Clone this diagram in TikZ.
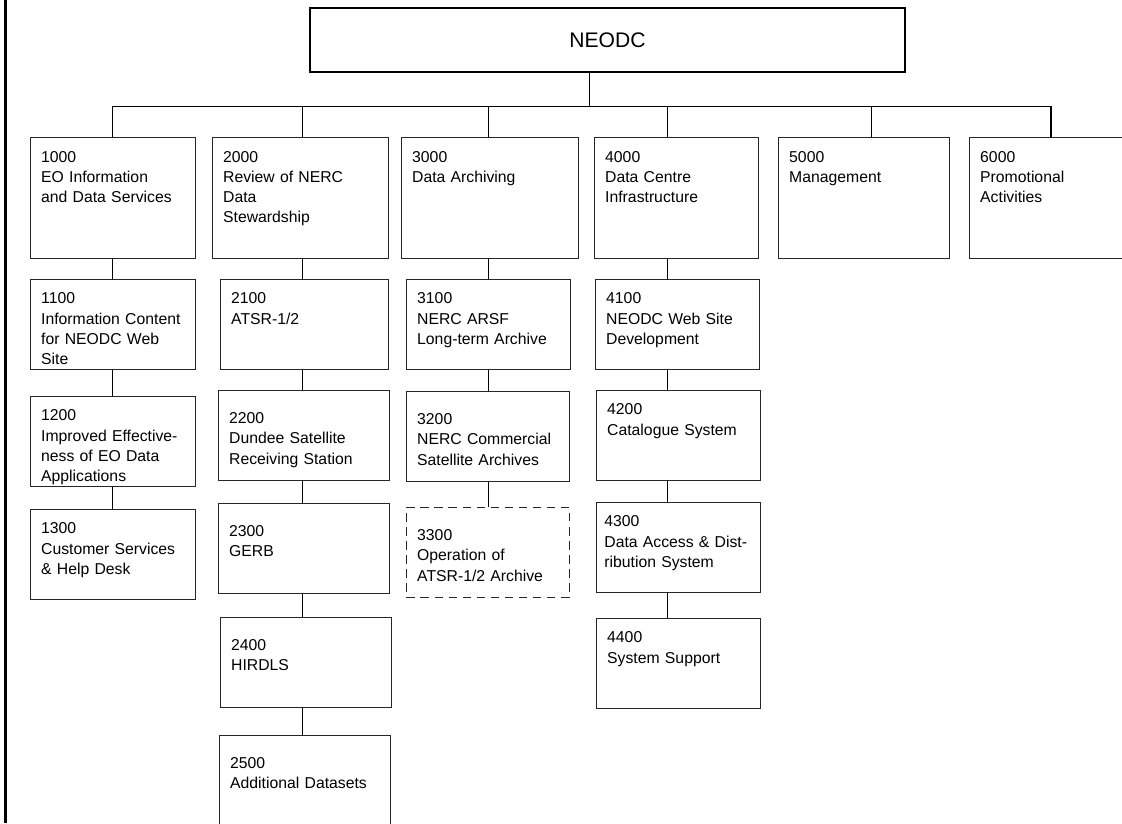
\documentclass[tikz,border=0pt]{standalone}
\usepackage{fontspec}
\setmainfont{Liberation Sans}
\usepackage{tikz}

\tikzset{
  subbox/.style={draw=black!85,line width=0.6pt,anchor=north west,align=left,
    inner xsep=0.27cm,inner ysep=0pt,text width=3.585cm,
    font=\fontsize{11.2}{14.4}\selectfont,text height=0.61cm,text depth=1.64cm},
  mainbox/.style={subbox,text height=0.62cm,text depth=2.405cm},
  lowtext/.style={text height=0.83cm,text depth=1.42cm},
  link/.style={line width=0.7pt}
}

\begin{document}
\begin{tikzpicture}[x=0.025cm,y=-0.025cm]
\path[use as bounding box,clip] (0,0) rectangle (1122,823);

\draw[line width=1.5pt] (5.5,0) -- (5.5,823);

\node[draw,line width=1.4pt,minimum width=14.875cm,minimum height=1.6cm,
  font=\fontsize{15}{18}\selectfont] (neodc) at (607.5,40) {NEODC};

% top level
\node[mainbox] (n1000) at (30,137) {1000\\EO Information\\and Data Services};
\node[mainbox,text width=3.86cm] (n2000) at (212,137) {2000\\Review of NERC\\Data\\Stewardship};
\node[mainbox,text width=3.885cm] (n3000) at (401,137) {3000\\Data Archiving};
\node[mainbox,text width=3.56cm] (n4000) at (594,137) {4000\\Data Centre\\Infrastructure};
\node[mainbox,text width=3.735cm] (n5000) at (778,137) {5000\\Management};
\node[mainbox] (n6000) at (969,137) {6000\\Promotional\\Activities};

% column 1000
\node[subbox] (n1100) at (30,279) {1100\\Information Content\\for NEODC Web\\Site};
\node[subbox] (n1200) at (30,396) {1200\\Improved Effective-\\ness of EO Data\\Applications};
\node[subbox] (n1300) at (30,509) {1300\\Customer Services\\\& Help Desk};

% column 2000
\node[subbox,text width=3.66cm] (n2100) at (220,279) {2100\\ATSR-1/2};
\node[subbox,lowtext,text width=3.735cm] (n2200) at (218,390) {2200\\Dundee Satellite\\Receiving Station};
\node[subbox,lowtext,text width=3.735cm] (n2300) at (218,503) {2300\\GERB};
\node[subbox,lowtext,text width=3.735cm] (n2400) at (220,617) {2400\\HIRDLS};
\node[subbox,lowtext,text width=3.735cm] (n2500) at (219,735) {2500\\Additional Datasets};

% column 3000
\node[subbox,text width=3.56cm] (n3100) at (406,279) {3100\\NERC ARSF\\Long-term Archive};
\node[subbox,lowtext,text width=3.535cm] (n3200) at (406,391) {3200\\NERC Commercial\\Satellite Archives};
\node[subbox,lowtext,text width=3.535cm,dash pattern=on 6pt off 4pt] (n3300) at (406,507) {3300\\Operation of\\ATSR-1/2 Archive};

% column 4000
\node[subbox,text width=3.56cm] (n4100) at (595,279) {4100\\NEODC Web Site\\Development};
\node[subbox,text width=3.56cm] (n4200) at (596,390) {4200\\Catalogue System};
\node[subbox,inner xsep=0.2cm,text width=3.7cm] (n4300) at (596,502) {4300\\Data Access \& Dist-\\ribution System};
\node[subbox,text width=3.56cm] (n4400) at (596,618) {4400\\System Support};

\coordinate (bus) at (589,106);
\coordinate (b1) at (112,106);
\coordinate (b2) at (302,106);
\coordinate (b3) at (488,106);
\coordinate (b4) at (667,106);
\coordinate (b5) at (871,106);
\coordinate (b6) at (1051,106);

\draw[link] (neodc.south -| bus) -- (bus);
\draw[link] (b1) -- (b6);
\draw[link] (b1) -- (b1 |- n1000.north);
\draw[link] (b2) -- (b2 |- n2000.north);
\draw[link] (b3) -- (b3 |- n3000.north);
\draw[link] (b4) -- (b4 |- n4000.north);
\draw[link] (b5) -- (b5 |- n5000.north);
\draw[line width=1.3pt] (b6) -- (b6 |- n6000.north);

\draw[link] (b1 |- n1000.south) -- (b1 |- n1100.north);
\draw[link] (b1 |- n1100.south) -- (b1 |- n1200.north);
\draw[link] (b1 |- n1200.south) -- (b1 |- n1300.north);

\draw[link] (b2 |- n2000.south) -- (b2 |- n2100.north);
\draw[link] (b2 |- n2100.south) -- (b2 |- n2200.north);
\draw[link] (b2 |- n2200.south) -- (b2 |- n2300.north);
\draw[link] (b2 |- n2300.south) -- (b2 |- n2400.north);
\draw[link] (b2 |- n2400.south) -- (b2 |- n2500.north);

\draw[link] (b3 |- n3000.south) -- (b3 |- n3100.north);
\draw[link] (b3 |- n3100.south) -- (b3 |- n3200.north);
\draw[link] (b3 |- n3200.south) -- (b3 |- n3300.north);

\draw[link] (b4 |- n4000.south) -- (b4 |- n4100.north);
\draw[link] (b4 |- n4100.south) -- (b4 |- n4200.north);
\draw[link] (b4 |- n4200.south) -- (b4 |- n4300.north);
\draw[link] (b4 |- n4300.south) -- (b4 |- n4400.north);
\end{tikzpicture}
\end{document}
